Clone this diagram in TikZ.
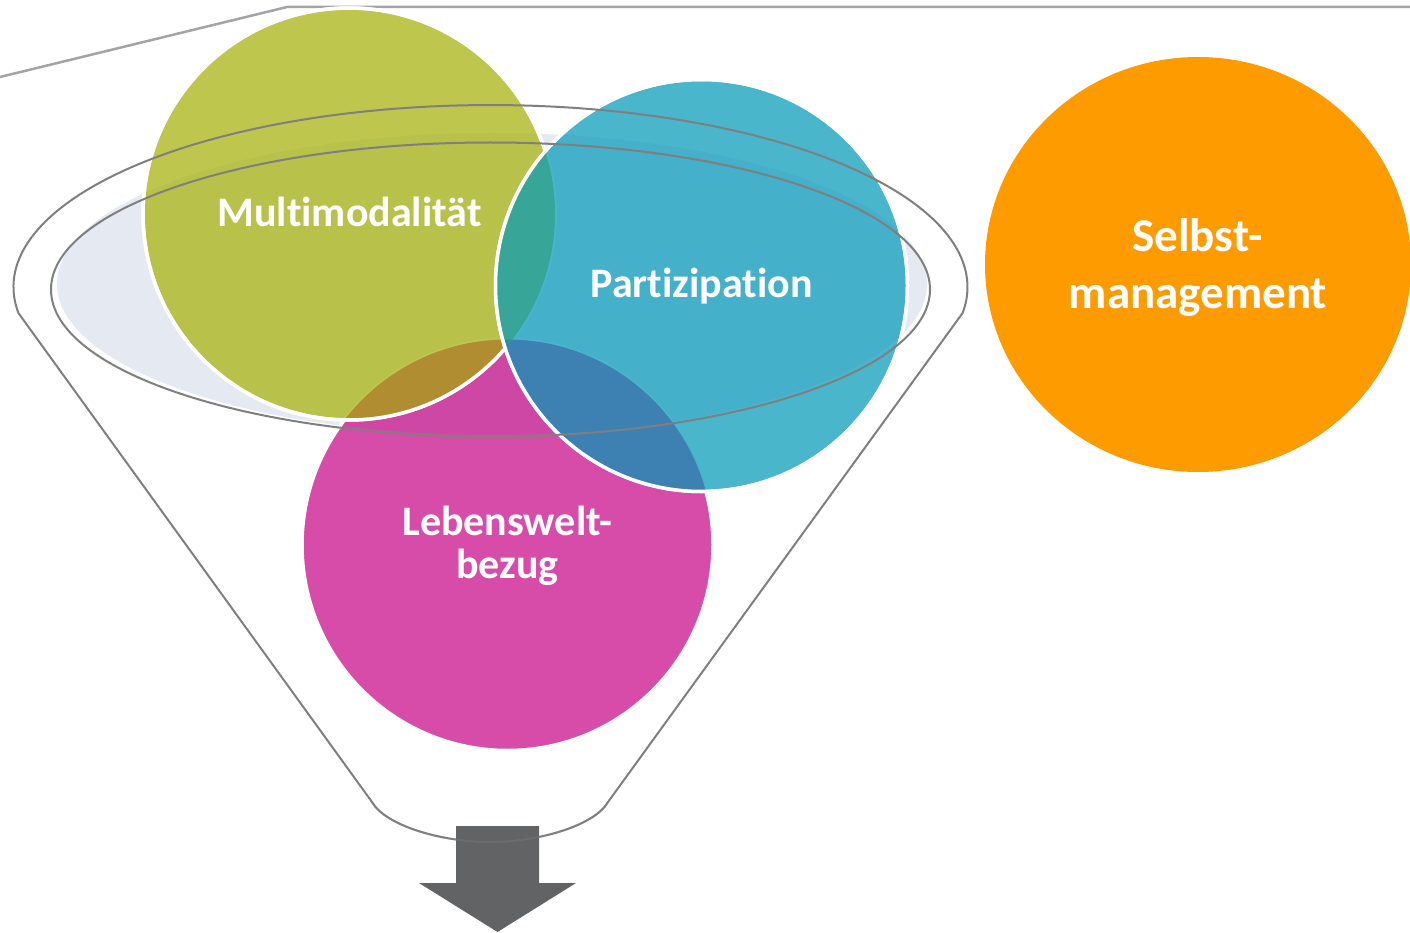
\documentclass[tikz,border=0pt]{standalone}
\usepackage{fontspec}
\setmainfont{Carlito}[Ligatures={NoCommon}]
\definecolor{limebase}{RGB}{172,182,28}
\definecolor{cyanbase}{RGB}{23,161,190}
\definecolor{pinkbase}{RGB}{202,26,144}
\definecolor{limepink}{RGB}{176,141,48}
\definecolor{limecyan}{RGB}{55,165,151}
\definecolor{cyanpink}{RGB}{61,128,178}
\definecolor{allthree}{RGB}{52,140,160}
\definecolor{funnelfill}{RGB}{228,233,242}
\definecolor{outlinegray}{RGB}{127,127,127}
\definecolor{rulegray}{RGB}{163,163,168}
\definecolor{orangefill}{RGB}{253,155,0}
\definecolor{arrowgray}{RGB}{98,99,101}
\begin{document}
\begin{tikzpicture}[x=1pt,y=-1pt,
  ring/.style={draw=white, line width=3.5pt},
  outline/.style={draw=outlinegray, line width=2pt, line join=round},
  rule/.style={draw=rulegray, line width=2.5pt, line join=round},
  lbl/.style={text=white, inner sep=0pt, anchor=base,
    font=\fontsize{42pt}{44pt}\selectfont\bfseries},
  biglbl/.style={lbl, font=\fontsize{47pt}{56pt}\selectfont\bfseries}]
\useasboundingbox (0,0) rectangle (1410,933);

% centres of the circles and of the funnel parts
\coordinate (cM) at (349,214);
\coordinate (cP) at (701.5,285.5);
\coordinate (cL) at (507.5,545);
\coordinate (cS) at (1198,264.5);
\coordinate (rim) at (490.5,289.5);
\coordinate (glass) at (492,284);

% thin rule along the top
\coordinate (r0) at (0,77);
\coordinate (r1) at (287,7);
\coordinate (r2) at (1410,7);
\draw[rule] (r0) -- (r1) -- (r2);

% pale inside of the funnel mouth
\fill[funnelfill] (glass) ellipse [x radius=435pt, y radius=151pt];

% Lebensweltbezug
\fill[pinkbase, fill opacity=0.78] (cL) circle [radius=205.5pt];
\draw[ring] (cL) circle [radius=205.5pt];

% Multimodalitaet and its overlap with Lebensweltbezug
\fill[limebase, fill opacity=0.78] (cM) circle [radius=206pt];
\draw[ring] (cM) circle [radius=206pt];
\begin{scope}
  \clip (cM) circle [radius=206pt];
  \fill[limepink] (cL) circle [radius=205.5pt];
\end{scope}
\draw[ring] (cM) circle [radius=206pt];

% Partizipation and its overlaps
\fill[cyanbase, fill opacity=0.78] (cP) circle [radius=206pt];
\draw[ring] (cP) circle [radius=206pt];
\begin{scope}
  \clip (cP) circle [radius=206pt];
  \fill[limecyan] (cM) circle [radius=206pt];
  \fill[cyanpink] (cL) circle [radius=205.5pt];
  \clip (cM) circle [radius=206pt];
  \fill[allthree] (cL) circle [radius=205.5pt];
\end{scope}
\draw[ring] (cP) circle [radius=206pt];

% funnel outline
\coordinate (fl) at (18.4,313);
\coordinate (bl) at (372,802);
\coordinate (bm) at (490,842);
\coordinate (br) at (608,802);
\draw[outline] (fl) arc [start angle=188.2, end angle=-8.2, x radius=477pt, y radius=182pt]
  -- (br) .. controls (595,825) and (540,842) .. (bm)
  .. controls (440,842) and (385,825) .. (bl) -- cycle;
\draw[outline] (rim) ellipse [x radius=439.5pt, y radius=147pt];

% output arrow
\fill[arrowgray] (456,826) -- (539,826) -- (539,883) -- (576,883) -- (497.5,932)
  -- (419,883) -- (456,883) -- cycle;
\draw[outline, draw opacity=0.35] (br) .. controls (595,825) and (540,842) .. (bm)
  .. controls (440,842) and (385,825) .. (bl);

% Selbstmanagement
\fill[orangefill] (cS) ellipse [x radius=213pt, y radius=207.5pt];

% labels
\node[lbl] (tM) at (349.5,227) {Multimodalität};
\node[lbl] (tP) at (701.5,298) {Partizipation};
\node[lbl] (tL1) at (507.5,535) {Lebenswelt-};
\node[lbl] (tL2) at (507.5,578) {bezug};
\node[biglbl] (tS1) at (1197.5,252) {Selbst-};
\node[biglbl] (tS2) at (1198,308) {management};
\end{tikzpicture}
\end{document}
